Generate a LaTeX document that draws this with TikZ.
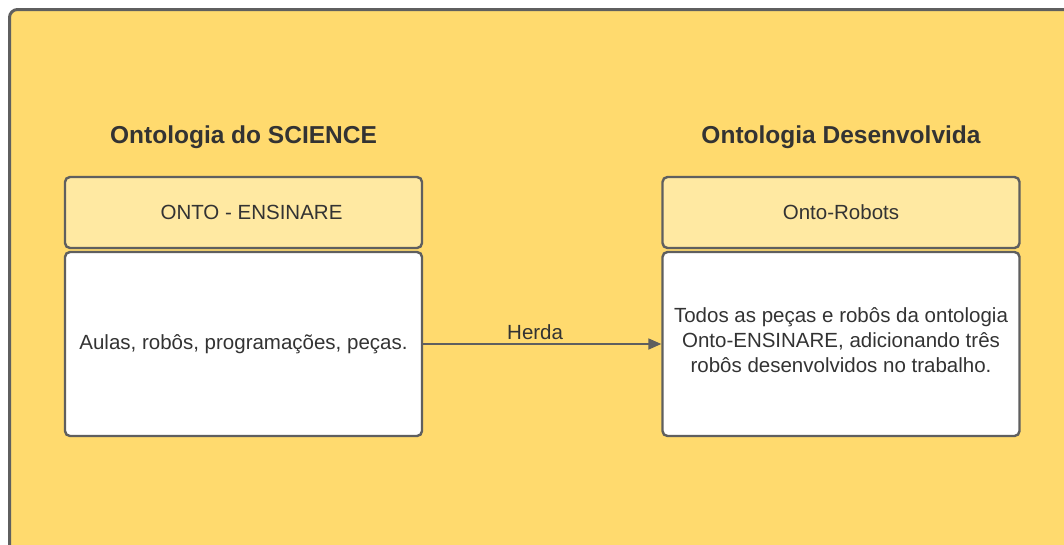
\documentclass[tikz,border=0pt]{standalone}
\usepackage{fontspec}
\setmainfont{Liberation Sans}
\usetikzlibrary{arrows.meta}
\definecolor{bgyellow}{HTML}{FFDA6E}
\definecolor{hdyellow}{HTML}{FFE9A2}
\definecolor{edgegrey}{HTML}{5F5F5F}
\definecolor{txt}{HTML}{333333}
\tikzset{
  hdr/.style={draw=edgegrey, line width=2.4pt, fill=hdyellow, rounded corners=5pt, minimum width=357pt, minimum height=71pt, inner sep=0pt, font=\fontsize{20.5}{25}\selectfont, text=txt},
  bodybox/.style={draw=edgegrey, line width=2.4pt, fill=white, rounded corners=5pt, minimum width=357pt, minimum height=184pt, inner sep=0pt, font=\fontsize{20.5}{25}\selectfont, text=txt, align=center},
  bodytxt/.style={inner sep=0pt, font=\fontsize{20.5}{25}\selectfont, text=txt, align=center},
  ttl/.style={font=\bfseries\fontsize{24.5}{29}\selectfont, text=txt},
  conn/.style={draw=edgegrey, line width=1.8pt, -{Triangle[length=13pt,width=11pt]}},
}
\begin{document}
\begin{tikzpicture}[x=1pt,y=-1pt]
\useasboundingbox (0,0) rectangle (1064,544);
\clip (0,0) rectangle (1064,544);
\draw[draw=edgegrey, line width=3pt, fill=bgyellow, rounded corners=8pt] (9.5,9.5) rectangle (1090,570);
\node[ttl] (t1) at (243.5,137) {Ontologia do SCIENCE};
\node[ttl] (t2) at (841,137) {Ontologia Desenvolvida};
\node[hdr] (h1) at (243.5,212.5) {\hspace*{16pt}ONTO - ENSINARE};
\node[bodybox] (b1) at (243.5,344) {Aulas, robôs, programações, peças.};
\node[hdr] (h2) at (841,212.5) {Onto-Robots};
\node[bodybox] (b2) at (841,344) {};
\node[bodytxt] (b2t) at (841,340) {Todos as peças e robôs da ontologia\\Onto-ENSINARE, adicionando três\\robôs desenvolvidos no trabalho.};
\draw[conn] (b1.east) -- node[above, pos=0.47, font=\fontsize{20.5}{25}\selectfont, text=txt, inner sep=3pt] (lbl) {Herda} (b2.west);
\end{tikzpicture}
\end{document}
